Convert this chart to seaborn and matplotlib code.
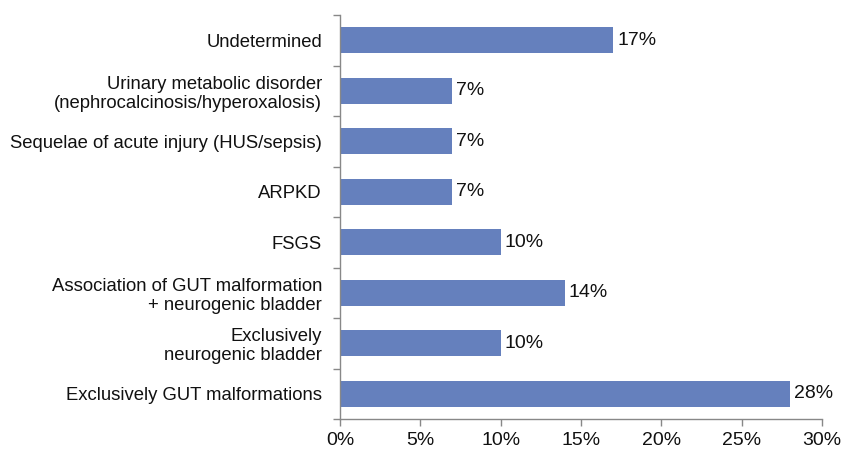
import matplotlib
matplotlib.use("Agg")
import matplotlib.pyplot as plt
import seaborn as sns
import pandas as pd
import numpy as np

categories = [
    "Undetermined",
    "Urinary metabolic disorder\n(nephrocalcinosis/hyperoxalosis)",
    "Sequelae of acute injury (HUS/sepsis)",
    "ARPKD",
    "FSGS",
    "Association of GUT malformation\n+ neurogenic bladder",
    "Exclusively\nneurogenic bladder",
    "Exclusively GUT malformations",
]
values = [17, 7, 7, 7, 10, 14, 10, 28]
x_ticks = [0, 5, 10, 15, 20, 25, 30]
x_tick_labels = ["0%", "5%", "10%", "15%", "20%", "25%", "30%"]

sns.set_theme(style="white")
plt.rcParams['font.family'] = ['Liberation Sans', 'DejaVu Sans']

FS = 13.3
FS_NUM = 14
df = pd.DataFrame({"category": categories, "value": values})

fig = plt.figure(figsize=(8.43, 4.5), dpi=100)
ax = fig.add_axes([340/843, 31/450, 482/843, 404/450])
sns.barplot(data=df, y="category", x="value", orient="h", color="#6580bd",
            width=0.52, saturation=1, linewidth=0, ax=ax)

ax.set_xlim(0, 30)
ax.set_ylim(len(categories) - 0.5, -0.5)
ax.set_xticks(x_ticks)
ax.set_xticklabels(x_tick_labels, fontsize=FS_NUM, color="#111111")
ax.set_xlabel("")
ax.set_ylabel("")

ax.set_yticks(range(len(categories)))
ax.set_yticklabels(categories, fontsize=FS, color="#111111", linespacing=1.15)
ax.tick_params(axis="y", which="major", length=0, pad=13)
ax.set_yticks(np.arange(-0.5, len(categories), 1), minor=True)
ax.tick_params(axis="y", which="minor", length=5, color="#888888", width=1, left=True)
ax.tick_params(axis="x", which="major", length=5, color="#888888", width=1, bottom=True, pad=4.5)

for s in ["top", "right"]:
    ax.spines[s].set_visible(False)
for s in ["left", "bottom"]:
    ax.spines[s].set_color("#888888")
    ax.spines[s].set_linewidth(1)

for i, v in enumerate(values):
    ax.text(v + 0.25, i, f"{v}%", va="center", ha="left", fontsize=FS_NUM, color="#111111")

fig.savefig("out.png", dpi=100)
